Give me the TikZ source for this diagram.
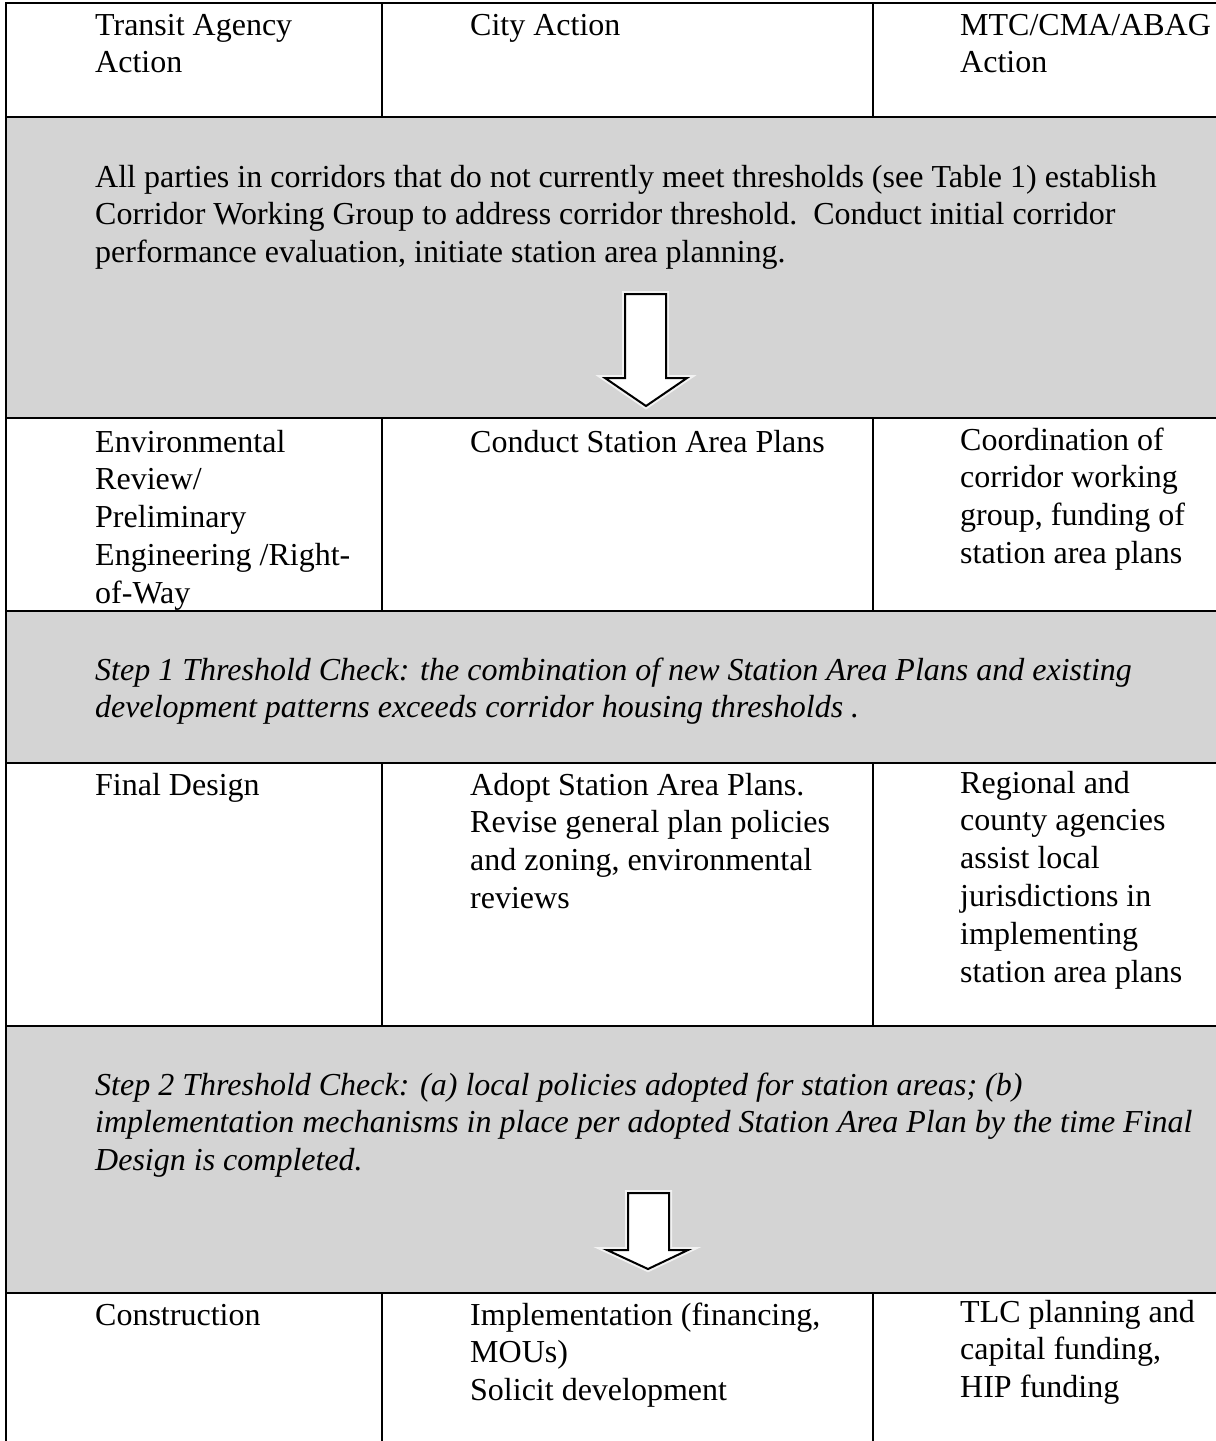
\documentclass[tikz,border=0pt]{standalone}
\usepackage{fontspec}
\setmainfont{Liberation Serif}
\definecolor{bandgray}{RGB}{212,212,212}
% note: multi-line nodes are anchored at the baseline of their LAST line
\tikzset{
  cell/.style={anchor=base west, inner sep=0pt, align=left, font=\fontsize{32}{37.8}\selectfont},
  band/.style={cell},
  bandit/.style={cell, font=\fontsize{32}{37.8}\selectfont\itshape},
  rule/.style={line width=2.2pt, black},
  blockarrow/.style={draw=black, fill=white, line width=2pt, line join=miter},
  glow/.style={draw=white, line width=6pt, opacity=0.7}
}
\begin{document}
\begin{tikzpicture}[x=1pt,y=-1pt]
\useasboundingbox (0,0) rectangle (1216,1441);
\fill[white] (0,0) rectangle (1216,1441);
% shaded bands
\fill[bandgray] (6,117) rectangle (1216,418);
\fill[bandgray] (6,611) rectangle (1216,763);
\fill[bandgray] (6,1026) rectangle (1216,1293);
% horizontal rules
\foreach \yy in {3,117,418,611,763,1026,1293}
  \draw[rule] (5,\yy) -- (1216,\yy);
% left border
\draw[rule] (6,2) -- (6,1441);
% column dividers
\foreach \ya/\yb in {3/117,418/611,763/1026,1293/1441}{
  \draw[rule] (382,\ya) -- (382,\yb);
  \draw[rule] (873,\ya) -- (873,\yb);
}
% row 1
\node[cell] (h1) at (95,72.8) {Transit Agency\\Action};
\node[cell] (h2) at (470,35) {City Action};
\node[cell] (h3) at (960,72.8) {MTC/CMA/ABAG\\Action};
% band 1
\node[band] (b1) at (95,262.6) {All parties in corridors that do not currently meet thresholds (see Table 1) establish\\Corridor Working Group to address corridor threshold.\ \ Conduct initial corridor\\performance evaluation, initiate station area planning.};
\path[glow] (625,294) -- (666,294) -- (666,378) -- (687,378) -- (646,406) -- (605,378) -- (625,378) -- cycle;
\path[blockarrow] (625,294) -- (666,294) -- (666,378) -- (687,378) -- (646,406) -- (605,378) -- (625,378) -- cycle;
% row 2
\node[cell] (r2a) at (95,603.2) {Environmental\\Review/\\Preliminary\\Engineering /Right-\\of-Way};
\node[cell] (r2b) at (470,452) {Conduct Station Area Plans};
\node[cell] (r2c) at (960,563.4) {Coordination of\\corridor working\\group, funding of\\station area plans};
% band 2
\node[bandit] (b2) at (95,717.8) {Step 1 Threshold Check: the combination of new Station Area Plans and existing\\development patterns exceeds corridor housing thresholds .};
% row 3
\node[cell] (r3a) at (95,795) {Final Design};
\node[cell] (r3b) at (470,908.4) {Adopt Station Area Plans.\\Revise general plan policies\\and zoning, environmental\\reviews};
\node[cell] (r3c) at (960,982) {Regional and\\county agencies\\assist local\\jurisdictions in\\implementing\\station area plans};
% band 3
\node[bandit] (b3) at (95,1170.6) {Step 2 Threshold Check: (a) local policies adopted for station areas; (b)\\implementation mechanisms in place per adopted Station Area Plan by the time Final\\Design is completed.};
\path[glow] (628,1193) -- (669,1193) -- (669,1250) -- (688,1250) -- (648,1269) -- (607,1250) -- (628,1250) -- cycle;
\path[blockarrow] (628,1193) -- (669,1193) -- (669,1250) -- (688,1250) -- (648,1269) -- (607,1250) -- (628,1250) -- cycle;
% row 4
\node[cell] (r4a) at (95,1325) {Construction};
\node[cell] (r4b) at (470,1400.6) {Implementation (financing,\\MOUs)\\Solicit development};
\node[cell] (r4c) at (960,1397.6) {TLC planning and\\capital funding,\\HIP funding};
\end{tikzpicture}
\end{document}
